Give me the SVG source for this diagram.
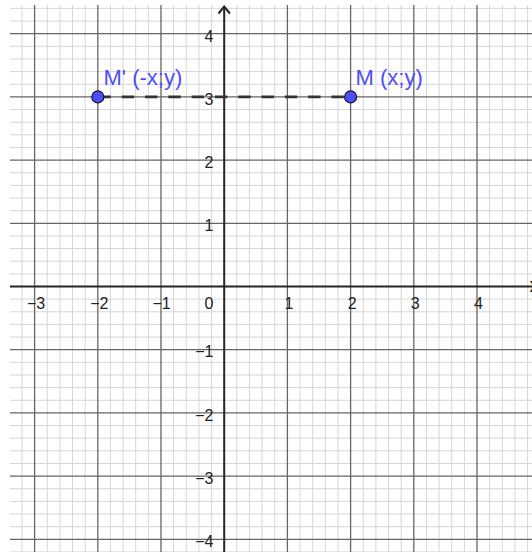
<svg xmlns="http://www.w3.org/2000/svg" width="532" height="552" viewBox="0 0 532 552">
<style>
.minor{stroke:#d6d6d6;stroke-width:1;fill:none}
.major{stroke:#666;stroke-width:1.3;fill:none}
.axis{stroke:#252525;stroke-width:2;fill:none}
.tick{font-family:"Liberation Sans",Arial,sans-serif;font-size:16px;fill:#222}
.tx{text-anchor:middle}
.ty{text-anchor:end}
.pt{fill:#4d4dff;stroke:#1a1a1a;stroke-width:1.2}
.lbl{font-family:"Liberation Sans",Arial,sans-serif;font-size:22px;fill:#4d4dff}
</style>
<rect x="0" y="0" width="532" height="552" fill="#fff"/>
<g id="grid">
<path class="minor" d="M22 5V552M47.2 5V552M59.9 5V552M72.5 5V552M85.2 5V552M110.4 5V552M123.1 5V552M135.7 5V552M148.4 5V552M173.6 5V552M186.3 5V552M198.9 5V552M211.6 5V552M236.8 5V552M249.5 5V552M262.1 5V552M274.8 5V552M300 5V552M312.7 5V552M325.3 5V552M338 5V552M363.2 5V552M375.9 5V552M388.5 5V552M401.2 5V552M426.4 5V552M439.1 5V552M451.7 5V552M464.4 5V552M489.6 5V552M502.3 5V552M514.9 5V552M527.6 5V552"/>
<path class="minor" d="M10 8.4H532M10 21.1H532M10 46.3H532M10 59H532M10 71.6H532M10 84.3H532M10 109.5H532M10 122.2H532M10 134.8H532M10 147.5H532M10 172.7H532M10 185.4H532M10 198H532M10 210.7H532M10 235.9H532M10 248.6H532M10 261.2H532M10 273.9H532M10 299.1H532M10 311.8H532M10 324.4H532M10 337.1H532M10 362.3H532M10 375H532M10 387.6H532M10 400.3H532M10 425.5H532M10 438.2H532M10 450.8H532M10 463.5H532M10 488.7H532M10 501.4H532M10 514H532M10 526.7H532M10 551.9H532"/>
<path class="major" d="M34.6 5V552M97.8 5V552M161 5V552M287.4 5V552M350.6 5V552M413.8 5V552M477 5V552"/>
<path class="major" d="M10 33.7H532M10 96.9H532M10 160.1H532M10 223.3H532M10 349.7H532M10 412.9H532M10 476.1H532M10 539.3H532"/>
</g>
<g id="axes">
<path class="axis" d="M10 286.5H532"/>
<path class="axis" d="M224.2 6V552"/>
<path class="axis" d="M218.5 13.5L224.2 6.5L229.9 13.5"/>
<text class="lbl" x="529.5" y="292" style="fill:#222;font-size:20px">x</text>
</g>
<g id="ticks">
<text class="tick tx" x="36.1" y="309">−3</text>
<text class="tick tx" x="99.3" y="309">−2</text>
<text class="tick tx" x="161.5" y="309">−1</text>
<text class="tick" x="204.5" y="309">0</text>
<text class="tick tx" x="288.9" y="309">1</text>
<text class="tick tx" x="352.1" y="309">2</text>
<text class="tick tx" x="415.3" y="309">3</text>
<text class="tick tx" x="478.5" y="309">4</text>
<text class="tick ty" x="213.5" y="41.5">4</text>
<text class="tick ty" x="213.5" y="104.5">3</text>
<text class="tick ty" x="213.5" y="167.7">2</text>
<text class="tick ty" x="213.5" y="230.9">1</text>
<text class="tick ty" x="213.5" y="357.3">−1</text>
<text class="tick ty" x="213.5" y="420.5">−2</text>
<text class="tick ty" x="213.5" y="483.7">−3</text>
<text class="tick ty" x="213.5" y="546.9">−4</text>
</g>
<g id="connectors">
<path d="M98.4 96.9H350.6" stroke="#333" stroke-width="2.6" stroke-dasharray="12.5 10.8" fill="none"/>
</g>
<g id="point-Mprime">
<circle class="pt" cx="97.8" cy="96.9" r="6"/>
<text class="lbl" x="103.5" y="85">M' (-x;y)</text>
</g>
<g id="point-M">
<circle class="pt" cx="350.6" cy="96.9" r="6"/>
<text class="lbl" x="355.5" y="85">M (x;y)</text>
</g>
</svg>
